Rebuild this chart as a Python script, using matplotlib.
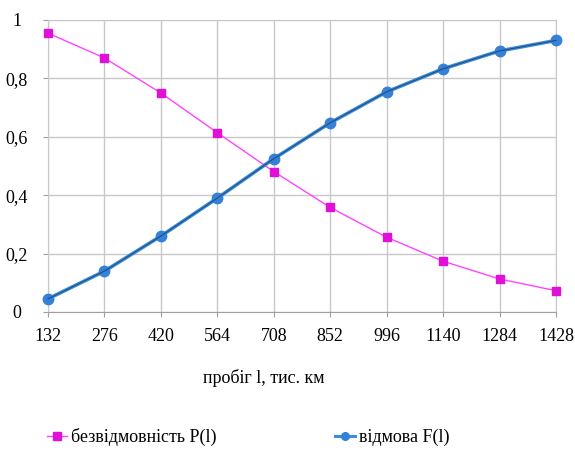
import matplotlib
matplotlib.use("Agg")
import matplotlib.pyplot as plt
from matplotlib.lines import Line2D

mileage = ["132", "276", "420", "564", "708", "852", "996", "1140", "1284", "1428"]
p_reliability = [0.955, 0.870, 0.750, 0.614, 0.481, 0.358, 0.256, 0.174, 0.113, 0.073]
f_failure = [0.045, 0.140, 0.260, 0.390, 0.525, 0.648, 0.754, 0.833, 0.894, 0.930]
y_ticks = [0, 0.2, 0.4, 0.6, 0.8, 1]
y_labels = ["0", "0,2", "0,4", "0,6", "0,8", "1"]

plt.rcParams['font.family'] = ['Liberation Serif', 'DejaVu Serif']

fig = plt.figure(figsize=(5.75, 4.53), dpi=100)
ax = fig.add_axes([48/575, 1-312/453, (556-48)/575, (312-20)/453])

x = list(range(len(mileage)))
ax.plot(x, p_reliability, color='#ff44ff', lw=1.0, marker='s', ms=6,
        mfc='#e010d8', mec='#e010d8', zorder=3, clip_on=False)
ax.plot(x, f_failure, color='#3a8ee0', lw=2.6, marker='o', ms=7.5,
        mfc='#3580d8', mec='#3580d8', zorder=4, clip_on=False)
ax.plot(x, f_failure, color='#244e78', lw=0.8, zorder=4, clip_on=False)

ax.set_xlim(0, len(mileage)-1)
ax.set_ylim(0, 1)
ax.set_xticks(x)
ax.set_xticklabels(mileage)
ax.set_yticks(y_ticks)
ax.set_yticklabels(y_labels)
ax.grid(True, color='#c8c8c8', lw=1.0)
for s in ax.spines.values():
    s.set_color('#c8c8c8')
ax.spines['bottom'].set_color('#a0a0a0')
ax.tick_params(axis='both', length=3.5, color='#a0a0a0', labelsize=13)
ax.tick_params(axis='x', pad=8)
ax.tick_params(axis='y', pad=19)
for lab in ax.get_yticklabels():
    lab.set_horizontalalignment('center')

fig.text(264/575, 1-378/453, "пробіг l, тис. км", ha='center', va='center', fontsize=13)

h1 = Line2D([], [], color='#ff44ff', lw=1.0, marker='s', ms=5.5, mfc='#e010d8', mec='#e010d8')
h2 = Line2D([], [], color='#3a8ee0', lw=2.2, marker='o', ms=5.5, mfc='#3580d8', mec='#3580d8')
fig.legend([h1, h2], ["безвідмовність P(l)", "відмова F(l)"], ncol=2, frameon=False,
           loc='center left', bbox_to_anchor=(40/575, 1-437/453), fontsize=13,
           handlelength=1.1, handletextpad=0.2, columnspacing=6.6, borderaxespad=0)

fig.savefig("out.png", dpi=100)
